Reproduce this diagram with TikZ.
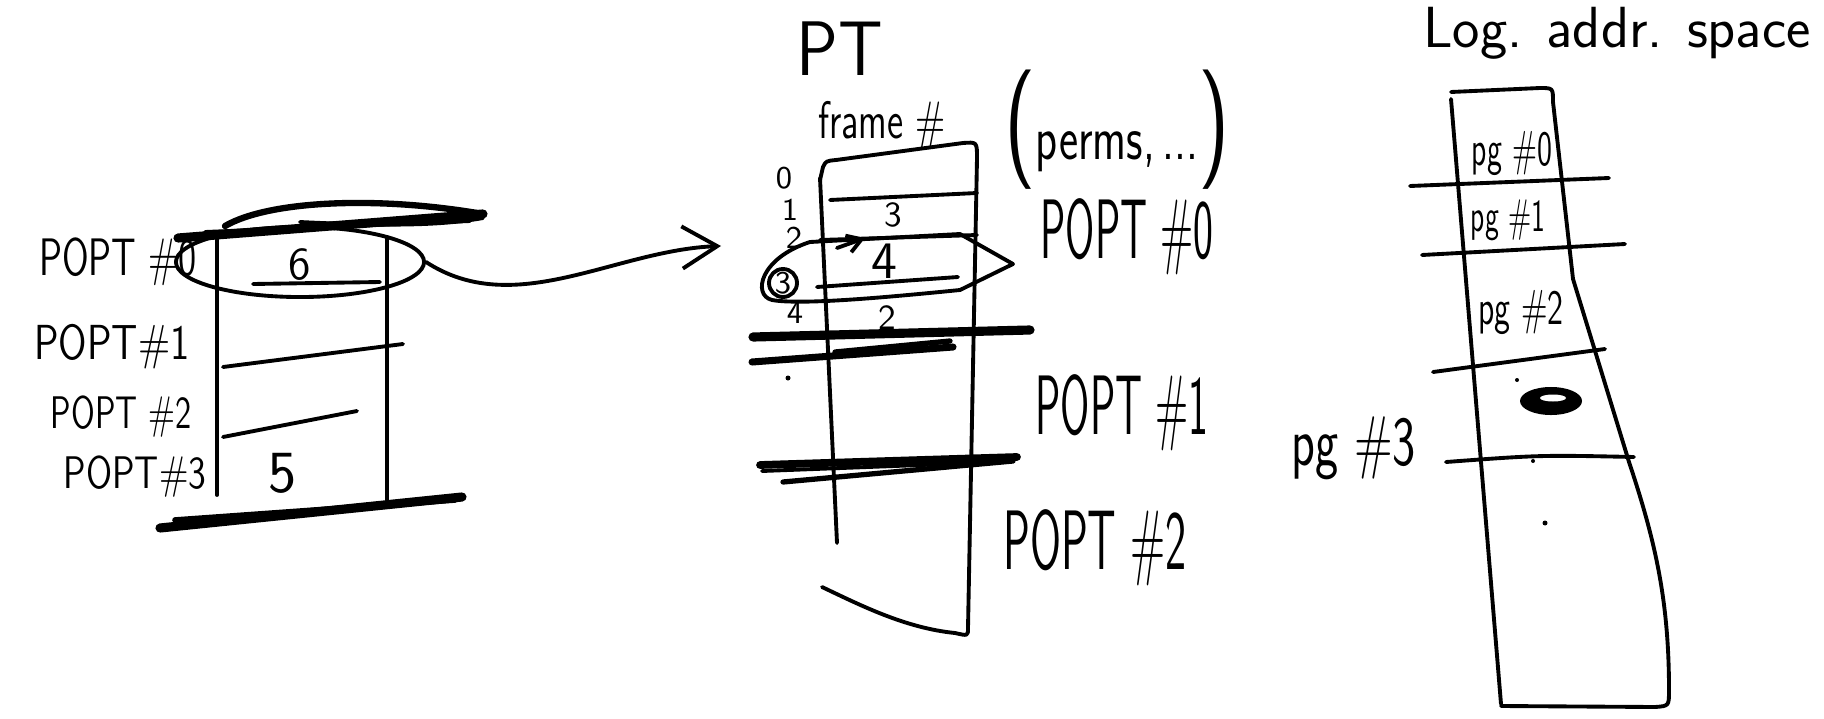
\documentclass[tikz,border=0pt]{standalone}
\usepackage{fontspec}
\usetikzlibrary{arrows.meta,shapes.geometric}
\newcommand\hx[3]{\fontsize{#1}{#1}\selectfont\scalebox{#2}[1]{#3}}
\begin{document}
\begin{tikzpicture}[x=0.01cm,y=-0.01cm, line cap=round, line join=round,
  pen/.style={line width=1.1pt},
  heavy/.style={line width=2.6pt},
  lbl/.style={inner sep=0pt, font=\sffamily},
]
\fill[white] (0,0) rectangle (1824,718);
\useasboundingbox (0,0) rectangle (1824,718);

% ---------------- left table (top-level page table) ----------------
\draw[pen] (217,237) -- (217,495);
\draw[pen] (387,237) -- (387,500);
\draw[heavy] (178,238) -- (483,214);
\draw[pen] (205,232) -- (470,221);
\draw[line width=1.8pt] (225,226) .. controls (270,200) and (380,196) .. (483,214);
\draw[pen] (300,222) .. controls (380,226) and (440,226) .. (483,218);
\draw[pen] (253,284) -- (380,282);
\draw[pen] (223,367) -- (403,344);
\draw[pen] (223,437) -- (357,411);
\draw[heavy] (160,528) -- (462,497);
\draw[line width=1.6pt] (175,520) -- (455,500);

\node[draw, pen, ellipse, minimum width=2.48cm, minimum height=0.70cm, inner sep=0pt] (sel0) at (300,262) {};

\node[lbl] (l0) at (118,262) {\hx{15}{0.7}{POPT \#0}};
\node[lbl] (l1) at (112,347) {\hx{14}{0.8}{POPT\#1}};
\node[lbl] (l2) at (121,417) {\hx{13}{0.72}{POPT \#2}};
\node[lbl] (l3) at (135,477) {\hx{13}{0.79}{POPT\#3}};
\node[lbl] (v6) at (300,265) {\hx{13}{1}{6}};
\node[lbl] (v5) at (283,473) {\hx{17}{1}{5}};

% ---------------- arrow ----------------
\coordinate (ptin) at (721,246);
\draw[pen, -{Straight Barb[length=10pt,width=12pt]}] (sel0.east) .. controls (515,320) and (615,250) .. (ptin);

% ---------------- middle table (PT) ----------------
\node[lbl] (ptt) at (840,49) {\hx{22}{0.9}{PT}};
\node[lbl] (frm) at (882,125) {\hx{15}{0.7}{frame \#}};
\node[lbl] (prm) at (1117,130) {\hx{18}{0.72}{{\fontsize{34}{34}\selectfont(}perms,\,...{\fontsize{34}{34}\selectfont)}}};

\draw[pen] (820,180) -- (823,167) .. controls (826,161) .. (836,160) -- (963,143) .. controls (977,142) .. (977,158) -- (968,628) .. controls (968,636) .. (955,633) .. controls (905,628) and (860,605) .. (822,587);
\draw[pen] (820,178) .. controls (828,350) .. (837,543);

\draw[pen] (830,200) -- (977,193);
\draw[pen] (820,240) -- (977,235);
\draw[pen] (817,287) -- (958,277);
\draw[pen, -{Straight Barb[length=4pt,width=5pt]}] (837,248) -- (865,238);

% highlighted PT entry
\draw[pen] (810,242) -- (960,234) -- (1013,264) -- (960,290) .. controls (880,298) and (800,305) .. (772,300) .. controls (752,295) and (760,258) .. (810,242);
\draw[pen] (783,283) circle[radius=0.14cm];

\node[lbl] (r0) at (784,178) {\hx{9}{1}{0}};
\node[lbl] (r1) at (790,210) {\hx{9}{1}{1}};
\node[lbl] (r2) at (794,238) {\hx{9}{1}{2}};
\node[lbl] (r3) at (783,283) {\hx{9}{1}{3}};
\node[lbl] (r4) at (795,313) {\hx{9}{1}{4}};
\fill (788,378) circle[radius=0.025cm];

\node[lbl] (e3) at (893,215) {\hx{10}{1}{3}};
\node[lbl] (e4) at (884,261) {\hx{15}{1}{4}};
\node[lbl] (e2) at (887,318) {\hx{10}{1}{2}};

\draw[heavy] (753,337) -- (1030,330);
\draw[line width=2pt] (752,362) -- (953,347);
\draw[line width=1.5pt] (835,352) -- (950,341);
\draw[line width=2.2pt] (760,465) -- (1017,457);
\draw[line width=1.5pt] (783,482) -- (1013,461);
\draw[pen] (762,471) -- (1000,462);

\node[lbl] (m0) at (1127,237) {\hx{24}{0.5}{POPT \#0}};
\node[lbl] (m1) at (1122,413) {\hx{24}{0.5}{POPT \#1}};
\node[lbl] (m2) at (1095,548) {\hx{24}{0.53}{POPT \#2}};

% ---------------- right: logical address space ----------------
\node[lbl] (las) at (1617,33) {\hx{16.5}{1}{Log. addr. space}};
\draw[pen] (1451,99) -- (1501,704);
\draw[pen] (1451,92) -- (1540,88) .. controls (1553,88) .. (1553,102) -- (1573,279) -- (1629,462) .. controls (1655,540) and (1669,600) .. (1669,690) .. controls (1669,706) .. (1655,707) -- (1501,706);
\draw[pen] (1410,186) -- (1609,178);
\draw[pen] (1422,255) -- (1625,244);
\draw[pen] (1433,372) -- (1605,349);
\draw[pen] (1446,462) .. controls (1540,455) .. (1634,457);

\node[lbl] (p0) at (1512,153) {\hx{14}{0.62}{pg \#0}};
\node[lbl] (p1) at (1508,220) {\hx{13}{0.62}{pg \#1}};
\node[lbl] (p2) at (1521,312) {\hx{14}{0.66}{pg \#2}};
\node[lbl] (p3) at (1354,448) {\hx{20}{0.7}{pg \#3}};

\fill (1551,401) ellipse[x radius=0.31cm, y radius=0.14cm];
\fill[white] (1553,398) ellipse[x radius=0.13cm, y radius=0.035cm];
\fill (1517,380) circle[radius=0.02cm];
\fill (1533,461) circle[radius=0.02cm];
\fill (1545,523) circle[radius=0.025cm];
\end{tikzpicture}
\end{document}
